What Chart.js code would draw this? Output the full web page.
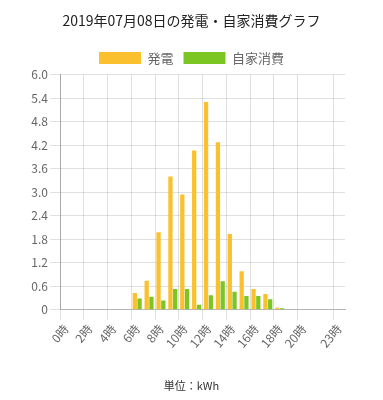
<!DOCTYPE html>
<html>
<head>
<meta charset="utf-8">
<script src="https://cdn.jsdelivr.net/npm/chart.js@4"></script>
<style>
html,body{margin:0;padding:0;background:#fff;}
#wrap{position:relative;width:383px;height:400px;}
</style>
</head>
<body>
<div id="wrap"><canvas id="c" width="383" height="400"></canvas></div>
<script>
const titleText = '2019年07月08日の発電・自家消費グラフ';
const unitText = '単位：kWh';
const categories = ['0時','1時','2時','3時','4時','5時','6時','7時','8時','9時','10時','11時','12時','13時','14時','15時','16時','17時','18時','19時','20時','21時','22時','23時'];
const shownLabels = ['0時','2時','4時','6時','8時','10時','12時','14時','16時','18時','20時','23時'];
const generation = [0,0,0,0,0,0,0.43,0.74,1.98,3.40,2.94,4.06,5.30,4.27,1.93,0.98,0.53,0.40,0.05,0,0,0,0,0];
const selfUse    = [0,0,0,0,0,0,0.29,0.33,0.24,0.53,0.53,0.13,0.37,0.73,0.46,0.35,0.35,0.27,0.04,0,0,0,0,0];
const yTicks = [0,0.6,1.2,1.8,2.4,3.0,3.6,4.2,4.8,5.4,6.0];

const FONT = '"Noto Sans CJK JP", "Noto Sans", sans-serif';
const isShown = (ctx) => ctx.index !== undefined && shownLabels.includes(categories[ctx.index]);
const xGrid = (ctx) => isShown(ctx) ? 'rgba(0,0,0,0.12)' : 'rgba(0,0,0,0)';

new Chart(document.getElementById('c'), {
  type: 'bar',
  data: {
    labels: categories,
    datasets: [
      {label: '発電', data: generation, backgroundColor: '#FBC02D', borderWidth: 0},
      {label: '自家消費', data: selfUse, backgroundColor: '#7CC623', borderWidth: 0}
    ]
  },
  options: {
    responsive: false,
    animation: false,
    layout: {padding: 0},
    plugins: {
      title: {display: true, text: titleText, color: '#222', font: {family: FONT, size: 14, weight: 'normal'}, padding: {top: 12.6, bottom: 12.1}},
      subtitle: {display: true, position: 'bottom', text: unitText, color: '#333', font: {family: FONT, size: 11, weight: 'normal'}, padding: {top: 0, bottom: 8}},
      legend: {labels: {boxWidth: 42, boxHeight: 12, color: '#666', font: {family: FONT, size: 13}, padding: 10}},
      tooltip: {enabled: false}
    },
    scales: {
      x: {
        offset: true,
        grid: {offset: true, color: xGrid, tickColor: xGrid, tickLength: 10},
        border: {color: '#b5b5b5', width: 1},
        ticks: {
          autoSkip: false, minRotation: 50, maxRotation: 50, color: '#666', padding: 2,
          font: {family: FONT, size: 12},
          callback: function(v, i) { const l = categories[i]; return shownLabels.includes(l) ? l : ''; }
        },
        afterFit(s) { s.height = 69; }
      },
      y: {
        min: 0, max: 6, 
        grid: {color: 'rgba(0,0,0,0.12)', tickLength: 10},
        border: {color: '#a8a8a8', width: 1},
        afterBuildTicks(s) { s.ticks = yTicks.map(v => ({value: v})); },
        ticks: {color: '#666', padding: 2, font: {family: FONT, size: 12},
          callback: (v) => v === 0 ? '0' : Number(v).toFixed(1)},
        afterFit(s) { s.width = 60; }
      },
      y2: {
        position: 'right', type: 'linear', display: true,
        grid: {display: false, drawTicks: false}, border: {display: false},
        ticks: {display: false},
        afterFit(s) { s.width = 38; }
      }
    }
  }
});
</script>
</body>
</html>
